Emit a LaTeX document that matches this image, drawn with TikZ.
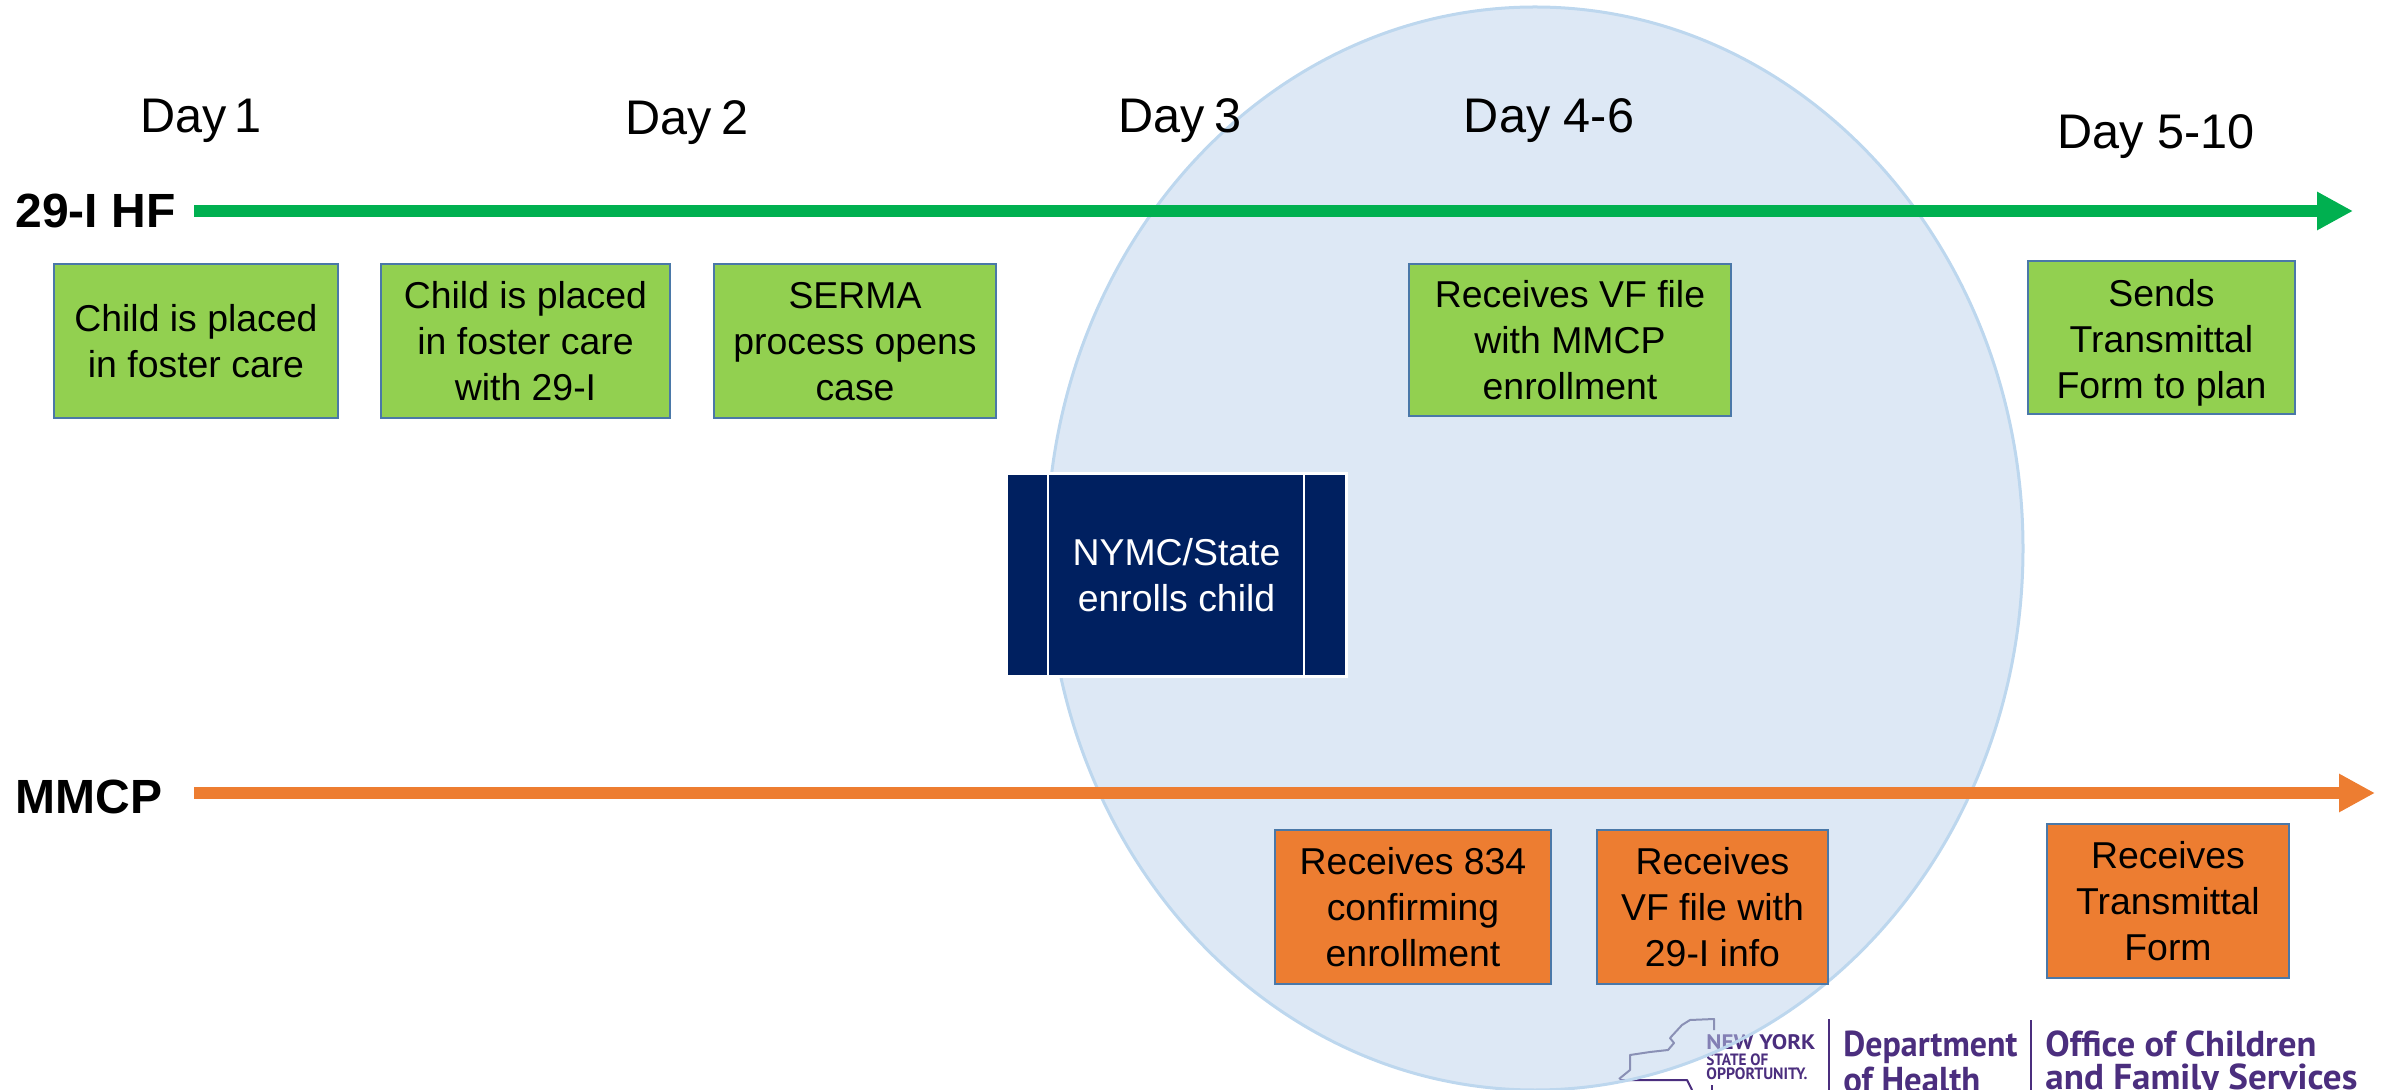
\documentclass[tikz,border=0pt]{standalone}
\usepackage{fontspec}
\setmainfont{Liberation Sans}
\newfontfamily\logofont{PT Sans}
\usetikzlibrary{arrows.meta}
\definecolor{boxgreen}{HTML}{92D050}
\definecolor{boxorange}{HTML}{ED7D31}
\definecolor{boxedge}{HTML}{4A78A8}
\definecolor{navybox}{HTML}{002060}
\definecolor{linegreen}{HTML}{00B050}
\definecolor{lineorange}{HTML}{ED7D31}
\definecolor{ellfill}{RGB}{187,209,235}
\definecolor{elledge}{HTML}{BDD7EE}
\definecolor{logopurple}{HTML}{4B2E7E}
\definecolor{logomap}{HTML}{5A5080}
\tikzset{
  stepbox/.style={draw=boxedge,line width=1pt,text=black,align=center,inner sep=0pt,
    font=\fontsize{18.7}{23}\selectfont},
  greenbox/.style={stepbox,fill=boxgreen},
  orangebox/.style={stepbox,fill=boxorange},
  daylabel/.style={font=\fontsize{24.3}{28}\selectfont,text=black,inner sep=0pt},
  rowlabel/.style={font=\fontsize{24}{28}\selectfont\bfseries,text=black,inner sep=0pt,anchor=west},
  timeline/.style={line width=6pt,-{Triangle[length=18pt,width=18pt]}},
  logotext/.style={anchor=base west,inner sep=0pt,text=logopurple},
  logobig/.style={logotext,font=\logofont\bfseries\fontsize{18}{20}\selectfont},
  logosmall/.style={logotext,font=\logofont\bfseries\fontsize{8.2}{9}\selectfont},
  logorule/.style={draw=logopurple,line width=0.7pt},
  mapline/.style={draw=logomap,line width=1pt,line join=round}
}
\begin{document}
\begin{tikzpicture}[x=0.5pt,y=-0.5pt]
\useasboundingbox (0,0) rectangle (2384,1090);
\clip (0,0) rectangle (2384,1090);
% logo (lies under the translucent ellipse)
\coordinate (ra) at (1829,1019); \coordinate (rb) at (1829,1090);
\coordinate (rc) at (2031,1020); \coordinate (rd) at (2031,1090);
\draw[logorule] (ra) -- (rb);
\draw[logorule] (rc) -- (rd);
\draw[mapline] (1619,1079) -- (1630,1070) -- (1630,1055) -- (1650,1052) -- (1668,1050) -- (1674,1043) -- (1670,1038) -- (1682,1025) -- (1690,1020) -- (1714,1019) -- (1714,1030);
\draw[draw=logopurple,line width=1pt,line join=round] (1620,1080) -- (1687,1080) -- (1692,1090);
\draw[draw=logopurple,line width=0.8pt] (1712,1085) -- (1712,1090);
\node[logotext,font=\logofont\bfseries\fontsize{10.5}{12}\selectfont] (ny) at (1706,1049) {\resizebox{54.5pt}{\height}{NEW YORK}};
\node[logosmall] (st) at (1706,1065) {\resizebox{31pt}{\height}{STATE OF}};
\node[logosmall] (op) at (1706,1079) {\resizebox{50.5pt}{\height}{OPPORTUNITY.}};
\node[logobig] (dp) at (1843,1056) {\resizebox{87pt}{\height}{Department}};
\node[logobig] (hl) at (1843,1092) {\resizebox{68.5pt}{\height}{of Health}};
\node[logobig] (oc) at (2045,1056) {\resizebox{135.5pt}{\height}{Office of Children}};
\node[logobig] (fs) at (2045,1089) {\resizebox{156pt}{\height}{and Family Services}};
% ellipse
\fill[ellfill,fill opacity=0.5] (1535,548.5) ellipse [x radius=488,y radius=541.5];
\draw[elledge,line width=1.5pt] (1535,548.5) ellipse [x radius=488,y radius=541.5];
% timelines
\coordinate (gs) at (194,211); \coordinate (ge) at (2353,211);
\coordinate (os) at (194,793); \coordinate (oe) at (2375,793);
\draw[timeline,linegreen] (gs) -- (ge);
\draw[timeline,lineorange] (os) -- (oe);
\node[rowlabel] (hf) at (15,211) {29-I HF};
\node[rowlabel] (mm) at (15,797) {MMCP};
% day labels
\node[daylabel] (d1) at (201,121) {Day\hspace{-3pt} 1};
\node[daylabel] (d2) at (687,123) {Day\hspace{-1.5pt} 2};
\node[daylabel] (d3) at (1180,121) {Day\hspace{-1.5pt} 3};
\node[daylabel] (d4) at (1549,121) {Day 4-6};
\node[daylabel] (d5) at (2156,137) {Day 5-10};
% green boxes
\node[greenbox,minimum width=142pt,minimum height=77pt] (g1) at (196,341.5) {Child is placed\\in foster care};
\node[greenbox,minimum width=144.5pt,minimum height=77pt] (g2) at (525.5,341.5) {Child is placed\\in foster care\\with 29-I};
\node[greenbox,minimum width=141pt,minimum height=77pt] (g3) at (855,341.5) {SERMA\\process opens\\case};
\node[greenbox,minimum width=161pt,minimum height=76pt] (g4) at (1570,340.5) {Receives VF file\\with MMCP\\enrollment};
\node[greenbox,minimum width=133.5pt,minimum height=76.5pt] (g5) at (2161.5,337.5) {\rule{0pt}{19pt}Sends\\Transmittal\\Form to plan};
% orange boxes
\node[orangebox,minimum width=138pt,minimum height=77pt] (o1) at (1413,907) {Receives 834\\confirming\\enrollment};
\node[orangebox,minimum width=115.5pt,minimum height=77pt] (o2) at (1712.5,907) {Receives\\VF file with\\29-I info};
\node[orangebox,minimum width=121pt,minimum height=77pt] (o3) at (2168,901) {Receives\\Transmittal\\Form};
% navy process box
\node[stepbox,draw=white,line width=1.3pt,fill=navybox,text=white,minimum width=170pt,minimum height=101.5pt] (nv) at (1176.5,575) {NYMC/State\\enrolls child};
\coordinate (na) at (1048,474); \coordinate (nb) at (1048,676);
\coordinate (nc) at (1304,474); \coordinate (nd) at (1304,676);
\draw[white,line width=1.3pt] (na) -- (nb);
\draw[white,line width=1.3pt] (nc) -- (nd);
\end{tikzpicture}
\end{document}
